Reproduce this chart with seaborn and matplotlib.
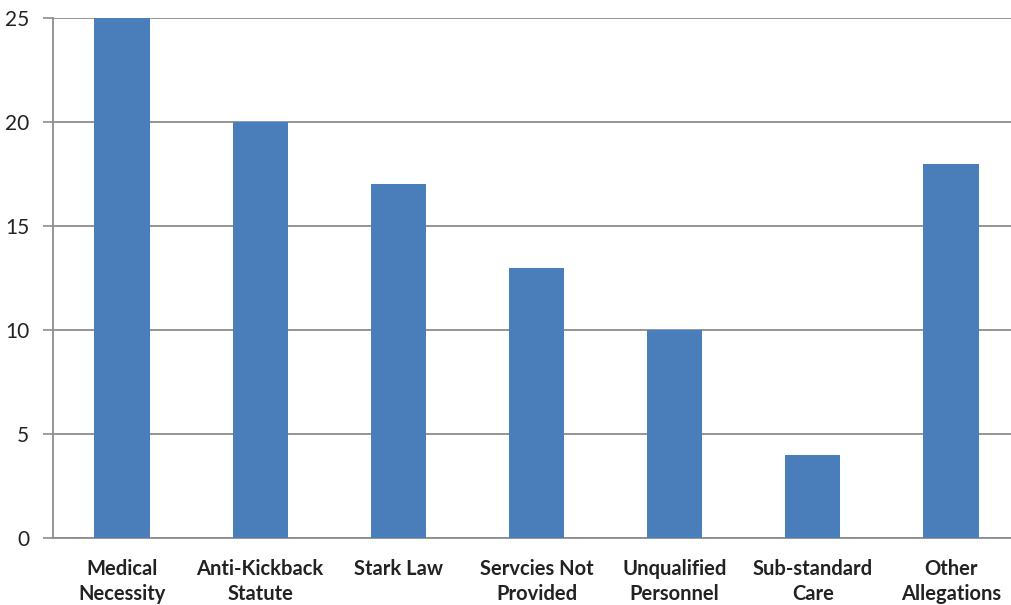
import matplotlib
matplotlib.use("Agg")
import matplotlib.pyplot as plt
import seaborn as sns
import pandas as pd

categories = ["Medical\nNecessity", "Anti-Kickback\nStatute", "Stark Law",
              "Servcies Not\nProvided", "Unqualified\nPersonnel",
              "Sub-standard\nCare", "Other\nAllegations"]
counts = [25, 20, 17, 13, 10, 4, 18]
y_ticks = [0, 5, 10, 15, 20, 25]

sns.set_style("white")
plt.rcParams["font.family"] = ["Lato", "DejaVu Sans"]

df = pd.DataFrame({"category": categories, "count": counts})

fig = plt.figure(figsize=(10.11, 6.05), dpi=100)
W, H = 1011, 605
ax = fig.add_axes([53 / W, (H - 538) / H, 967 / W, 520 / H])

sns.barplot(data=df, x="category", y="count", color="#4A7EBB",
            saturation=1, width=0.40, linewidth=0, ax=ax, zorder=3)

ax.set_ylim(0, 25)
ax.set_xlim(-0.5, len(categories) - 0.5)
ax.set_yticks(y_ticks)
ax.set_yticklabels([str(v) for v in y_ticks], fontsize=15, color="#222222")
ax.yaxis.grid(True, color="#8c8c8c", linewidth=1.3, zorder=0)
ax.set_axisbelow(True)

# category boundary ticks on the x axis, labels centred under each bar
ax.set_xticks([i + 0.5 for i in range(len(categories) - 1)], minor=False)
ax.set_xticklabels([])
ax.set_xticks(range(len(categories)), minor=True)
ax.set_xticklabels(categories, minor=True, fontsize=14.5, color="#222222",
                   fontweight="bold", linespacing=1.3)
ax.tick_params(axis="x", which="major", length=6, width=1.2, color="#8c8c8c",
               direction="out")
ax.tick_params(axis="x", which="minor", length=0, pad=15)
ax.tick_params(axis="y", length=7, width=1.2, color="#8c8c8c", direction="out",
               pad=10, left=True)

ax.set_xlabel("")
ax.set_ylabel("")
for side in ["top", "right"]:
    ax.spines[side].set_visible(False)
for side in ["left", "bottom"]:
    ax.spines[side].set_color("#8c8c8c")
    ax.spines[side].set_linewidth(1.3)

fig.savefig("out.png", dpi=100)
